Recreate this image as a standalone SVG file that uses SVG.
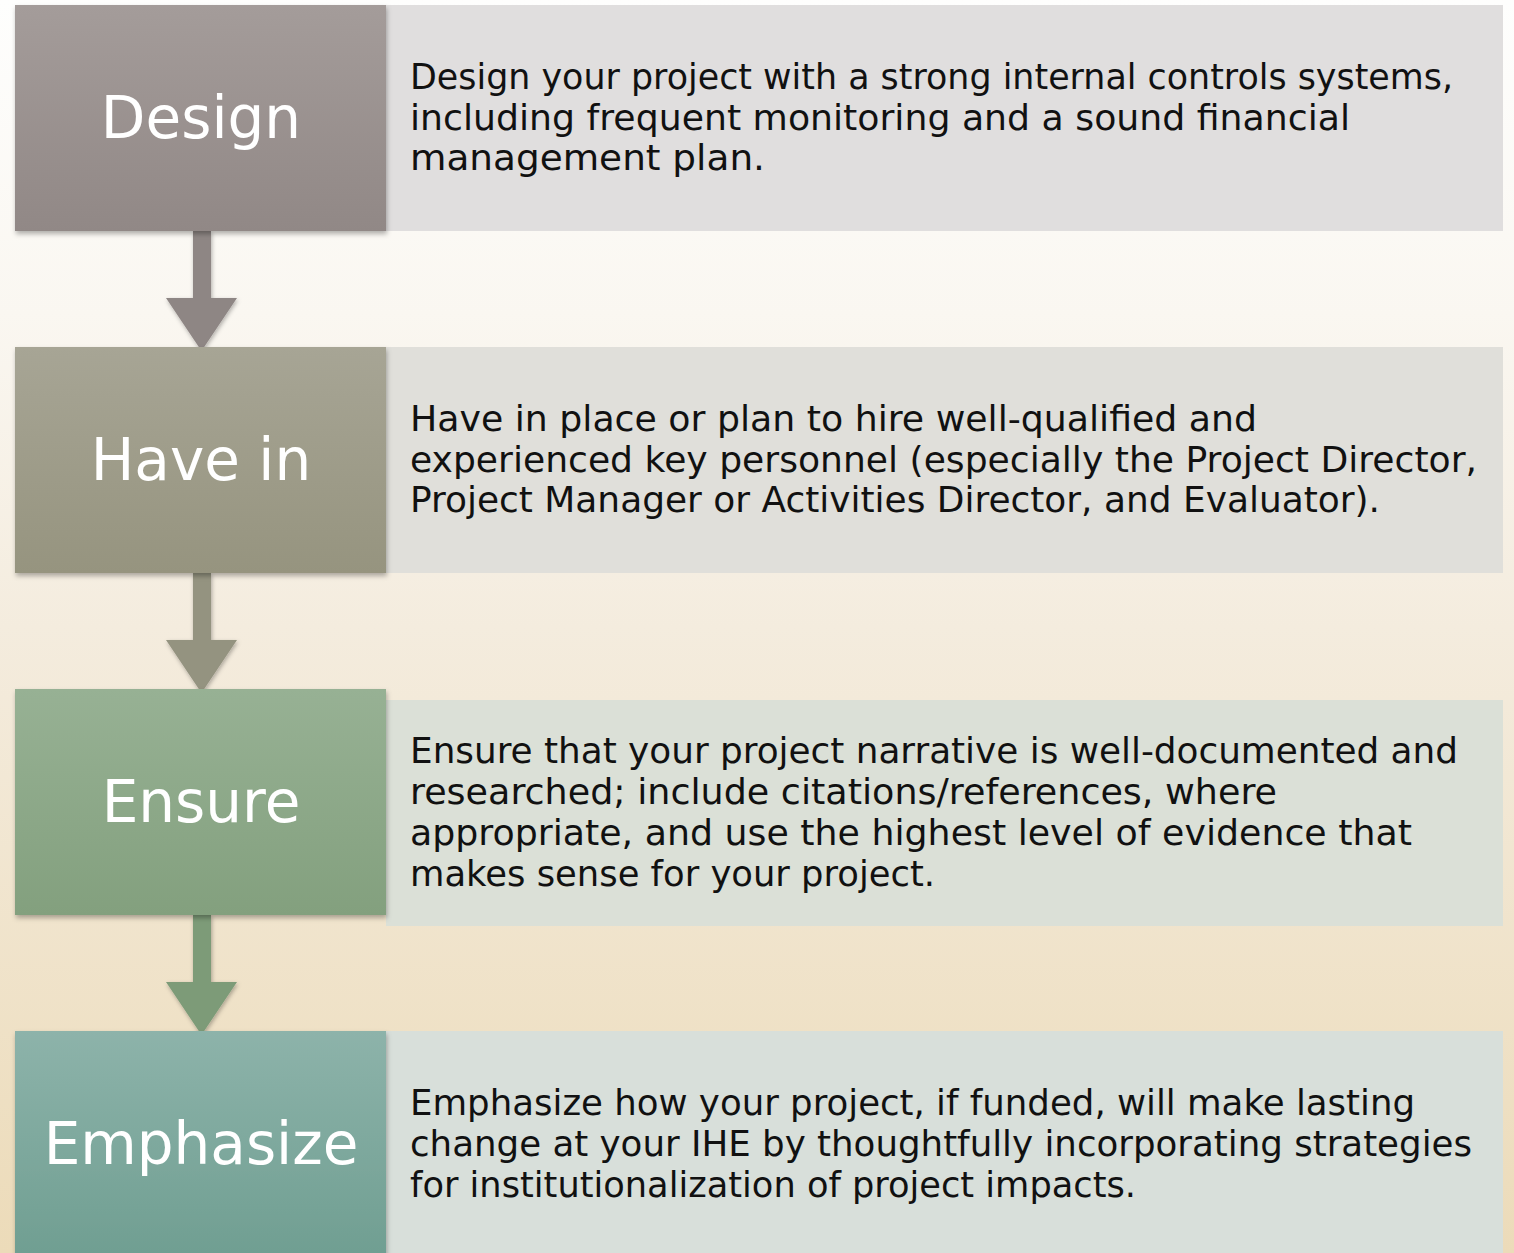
<svg xmlns="http://www.w3.org/2000/svg" width="1514" height="1253" viewBox="0 0 1514 1253">
<defs>
<linearGradient id="bg" x1="0" y1="0" x2="0" y2="1">
<stop offset="0" stop-color="#fefefd"/>
<stop offset="0.25" stop-color="#faf7f1"/>
<stop offset="0.5" stop-color="#f4ecde"/>
<stop offset="1" stop-color="#ecdbb9"/>
</linearGradient>
<linearGradient id="g1" x1="0" y1="0" x2="0" y2="1"><stop offset="0" stop-color="#a49c9a"/><stop offset="1" stop-color="#918886"/></linearGradient>
<linearGradient id="g2" x1="0" y1="0" x2="0" y2="1"><stop offset="0" stop-color="#a7a595"/><stop offset="1" stop-color="#96947f"/></linearGradient>
<linearGradient id="g3" x1="0" y1="0" x2="0" y2="1"><stop offset="0" stop-color="#97b194"/><stop offset="1" stop-color="#83a07e"/></linearGradient>
<linearGradient id="g4" x1="0" y1="0" x2="0" y2="1"><stop offset="0" stop-color="#8db3aa"/><stop offset="1" stop-color="#6f9e91"/></linearGradient>
<filter id="sh" x="-10%" y="-10%" width="120%" height="130%">
<feDropShadow dx="1" dy="3" stdDeviation="2.5" flood-color="#000" flood-opacity="0.3"/>
</filter>
<filter id="sha" x="-30%" y="-10%" width="160%" height="130%">
<feDropShadow dx="1" dy="2" stdDeviation="2" flood-color="#000" flood-opacity="0.3"/>
</filter>
</defs>
<style>
.lbl{font-family:"DejaVu Sans","Liberation Sans",sans-serif;font-size:58px;fill:#ffffff;text-anchor:middle;}
.txt{font-family:"DejaVu Sans","Liberation Sans",sans-serif;font-size:35px;fill:#111111;}
</style>
<rect x="0" y="0" width="1514" height="1253" fill="url(#bg)"/>

<g id="connectors">
<path d="M193,231 H211 V298 H237 L201.5,351 L166,298 H193 Z" fill="#8e8684" filter="url(#sha)"/>
<path d="M193,573 H211 V640 H237 L201.5,693 L166,640 H193 Z" fill="#949380" filter="url(#sha)"/>
<path d="M193,915 H211 V982 H237 L201.5,1035 L166,982 H193 Z" fill="#7d9b78" filter="url(#sha)"/>
</g>

<g id="panel-design">
<rect x="386" y="5" width="1117" height="226" fill="#e0dede"/>
<text class="txt" x="410" y="89" textLength="1043" lengthAdjust="spacingAndGlyphs">Design your project with a strong internal controls systems,</text>
<text class="txt" x="410" y="130" textLength="940" lengthAdjust="spacingAndGlyphs">including frequent monitoring and a sound financial</text>
<text class="txt" x="410" y="170" textLength="355" lengthAdjust="spacingAndGlyphs">management plan.</text>
</g>
<g id="node-design">
<rect x="15" y="5" width="371" height="226" fill="url(#g1)" filter="url(#sh)"/>
<text class="lbl" x="201" y="138">Design</text>
</g>

<g id="panel-havein">
<rect x="386" y="347" width="1117" height="226" fill="#e0dfda"/>
<text class="txt" x="410" y="431" textLength="847" lengthAdjust="spacingAndGlyphs">Have in place or plan to hire well-qualified and</text>
<text class="txt" x="410" y="472" textLength="1067" lengthAdjust="spacingAndGlyphs">experienced key personnel (especially the Project Director,</text>
<text class="txt" x="410" y="512" textLength="970" lengthAdjust="spacingAndGlyphs">Project Manager or Activities Director, and Evaluator).</text>
</g>
<g id="node-havein">
<rect x="15" y="347" width="371" height="226" fill="url(#g2)" filter="url(#sh)"/>
<text class="lbl" x="201" y="480">Have in</text>
</g>

<g id="panel-ensure">
<rect x="386" y="700" width="1117" height="226" fill="#dbe0d7"/>
<text class="txt" x="410" y="763" textLength="1048" lengthAdjust="spacingAndGlyphs">Ensure that your project narrative is well-documented and</text>
<text class="txt" x="410" y="804" textLength="867" lengthAdjust="spacingAndGlyphs">researched; include citations/references, where</text>
<text class="txt" x="410" y="845" textLength="1002" lengthAdjust="spacingAndGlyphs">appropriate, and use the highest level of evidence that</text>
<text class="txt" x="410" y="886" textLength="525" lengthAdjust="spacingAndGlyphs">makes sense for your project.</text>
</g>
<g id="node-ensure">
<rect x="15" y="689" width="371" height="226" fill="url(#g3)" filter="url(#sh)"/>
<text class="lbl" x="201" y="822">Ensure</text>
</g>

<g id="panel-emphasize">
<rect x="386" y="1031" width="1117" height="230" fill="#d8dfda"/>
<text class="txt" x="410" y="1115" textLength="1005" lengthAdjust="spacingAndGlyphs">Emphasize how your project, if funded, will make lasting</text>
<text class="txt" x="410" y="1156" textLength="1062" lengthAdjust="spacingAndGlyphs">change at your IHE by thoughtfully incorporating strategies</text>
<text class="txt" x="410" y="1197" textLength="726" lengthAdjust="spacingAndGlyphs">for institutionalization of project impacts.</text>
</g>
<g id="node-emphasize">
<rect x="15" y="1031" width="371" height="230" fill="url(#g4)" filter="url(#sh)"/>
<text class="lbl" x="201" y="1164">Emphasize</text>
</g>
</svg>
